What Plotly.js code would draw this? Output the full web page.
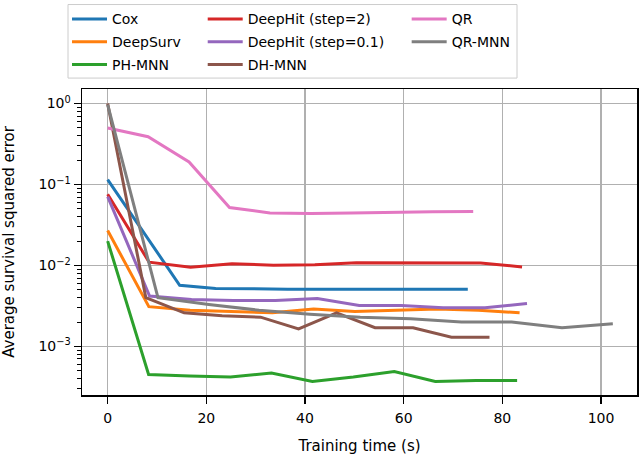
<!DOCTYPE html>
<html>
<head>
<meta charset="utf-8">
<script src="https://cdn.plot.ly/plotly-3.0.1.min.js"></script>
<style>
  html, body { margin: 0; padding: 0; background: white; }
  #chart { width: 640px; height: 455px; }
</style>
</head>
<body>
<div id="chart"></div>
<script>
// training time (s) and average survival squared error
var coxT = [0, 7.3, 14.6, 21.9, 29.2, 36.5, 43.8, 51.1, 58.4, 65.7, 73.0];
var coxE = [0.115, 0.026, 0.0057, 0.0052, 0.0051, 0.0051, 0.0051, 0.0051, 0.0052, 0.0052, 0.0051];

var deepSurvT = [0, 8.35, 16.7, 25.05, 33.4, 41.75, 50.1, 58.45, 66.8, 75.15, 83.5];
var deepSurvE = [0.027, 0.0031, 0.0028, 0.0027, 0.0026, 0.0029, 0.0027, 0.0028, 0.0029, 0.0028, 0.0026];

var phMnnT = [0, 8.3, 16.6, 24.9, 33.2, 41.5, 49.8, 58.1, 66.4, 74.7, 83.0];
var phMnnE = [0.020, 0.00045, 0.00043, 0.00042, 0.00047, 0.00037, 0.00042, 0.00049, 0.00037, 0.00038, 0.00038];

var deepHit2T = [0, 8.4, 16.8, 25.2, 33.6, 42.0, 50.4, 58.8, 67.2, 75.6, 84.0];
var deepHit2E = [0.076, 0.0110, 0.0095, 0.0105, 0.0101, 0.0102, 0.0108, 0.0107, 0.0107, 0.0107, 0.0096];

var deepHit01T = [0, 8.5, 17, 25.5, 34, 42.5, 51, 59.5, 68, 76.5, 85];
var deepHit01E = [0.071, 0.0042, 0.0038, 0.0037, 0.0037, 0.0039, 0.0032, 0.0032, 0.0030, 0.0030, 0.0034];

var dhMnnT = [0, 7.74, 15.5, 23.2, 31, 38.7, 46.4, 54.2, 61.9, 69.7, 77.4];
var dhMnnE = [1.0, 0.0040, 0.0026, 0.0024, 0.0023, 0.00165, 0.0026, 0.0017, 0.0017, 0.0013, 0.0013];

var qrT = [0, 8.2, 16.5, 24.7, 32.9, 41.2, 49.4, 57.6, 65.9, 74.1];
var qrE = [0.50, 0.39, 0.19, 0.052, 0.0445, 0.0440, 0.0445, 0.0455, 0.046, 0.0465];

var qrMnnT = [0, 10.2, 20.5, 30.7, 41, 51.2, 61.4, 71.7, 81.9, 92.1, 102.4];
var qrMnnE = [0.97, 0.0040, 0.0033, 0.0028, 0.0025, 0.0023, 0.0022, 0.0020, 0.0020, 0.0017, 0.0019];

var xTicks = [0, 20, 40, 60, 80, 100];
var yTicks = [1, 0.1, 0.01, 0.001];
var yTickText = ['10<sup>0</sup>', '10<sup>\u22121</sup>', '10<sup>\u22122</sup>', '10<sup>\u22123</sup>'];

function series(name, x, y, colour, legend) {
    return {
        type: 'scatter',
        mode: 'lines',
        name: name,
        x: x,
        y: y,
        line: {color: colour, width: 3},
        legend: legend,
        legendgroup: name, // one group per item so tracegroupgap spaces the rows
        hoverinfo: 'x+y+name'
    };
}

var data = [
    series('Cox', coxT, coxE, '#1f77b4', 'legend'),
    series('DeepSurv', deepSurvT, deepSurvE, '#ff7f0e', 'legend'),
    series('PH-MNN', phMnnT, phMnnE, '#2ca02c', 'legend'),
    series('DeepHit (step=2)', deepHit2T, deepHit2E, '#d62728', 'legend2'),
    series('DeepHit (step=0.1)', deepHit01T, deepHit01E, '#9467bd', 'legend2'),
    series('DH-MNN', dhMnnT, dhMnnE, '#8c564b', 'legend2'),
    series('QR', qrT, qrE, '#e377c2', 'legend3'),
    series('QR-MNN', qrMnnT, qrMnnE, '#7f7f7f', 'legend3')
];

// three legend columns, like matplotlib's ncol=3
function legendCol(x) {
    return {
        x: x,
        xanchor: 'left',
        y: 1.2797,
        yanchor: 'top',
        bgcolor: 'rgba(0,0,0,0)',
        borderwidth: 0,
        tracegroupgap: 1.5,
        itemwidth: 35,
        font: {size: 14, color: 'black'}
    };
}

var layout = {
    width: 640,
    height: 455,
    margin: {l: 82, r: 3, t: 87, b: 60},
    font: {family: 'DejaVu Sans', size: 14, color: 'black'},
    paper_bgcolor: 'white',
    plot_bgcolor: 'white',
    showlegend: true,
    legend: legendCol(-0.027),
    legend2: legendCol(0.2175),
    legend3: legendCol(0.585),
    xaxis: {
        range: [-5.2, 107.3],
        tickmode: 'array',
        tickvals: xTicks,
        ticks: 'outside',
        ticklen: 7,
        tickwidth: 1.3,
        tickcolor: 'black',
        ticklabelstandoff: 3,
        showline: true,
        linecolor: 'black',
        linewidth: 1.5,
        mirror: true,
        showgrid: true,
        gridcolor: '#b0b0b0',
        gridwidth: 1.5,
        zeroline: false,
        title: {text: 'Training time (s)', font: {size: 15}, standoff: 17}
    },
    yaxis: {
        type: 'log',
        range: [-3.60, 0.18],
        tickmode: 'array',
        tickvals: yTicks,
        ticktext: yTickText,
        ticks: 'outside',
        ticklen: 7,
        tickwidth: 1.3,
        tickcolor: 'black',
        minor: {
            ticks: 'outside',
            ticklen: 4,
            tickwidth: 1,
            tickcolor: 'black',
            dtick: 'D1',
            showgrid: false
        },
        showline: true,
        linecolor: 'black',
        linewidth: 1.5,
        mirror: true,
        showgrid: true,
        gridcolor: '#b0b0b0',
        gridwidth: 1.5,
        zeroline: false,
        title: {text: 'Average survival squared error', font: {size: 15}, standoff: 21}
    },
    shapes: [{
        // legend frame
        type: 'rect',
        xref: 'paper',
        yref: 'paper',
        x0: -0.0252,
        x1: 0.7838,
        y0: 1.0357,
        y1: 1.276,
        line: {color: '#cccccc', width: 1},
        fillcolor: 'rgba(255,255,255,0.8)',
        layer: 'above'
    }]
};

Plotly.newPlot('chart', data, layout, {displayModeBar: false, staticPlot: true});
</script>
</body>
</html>
